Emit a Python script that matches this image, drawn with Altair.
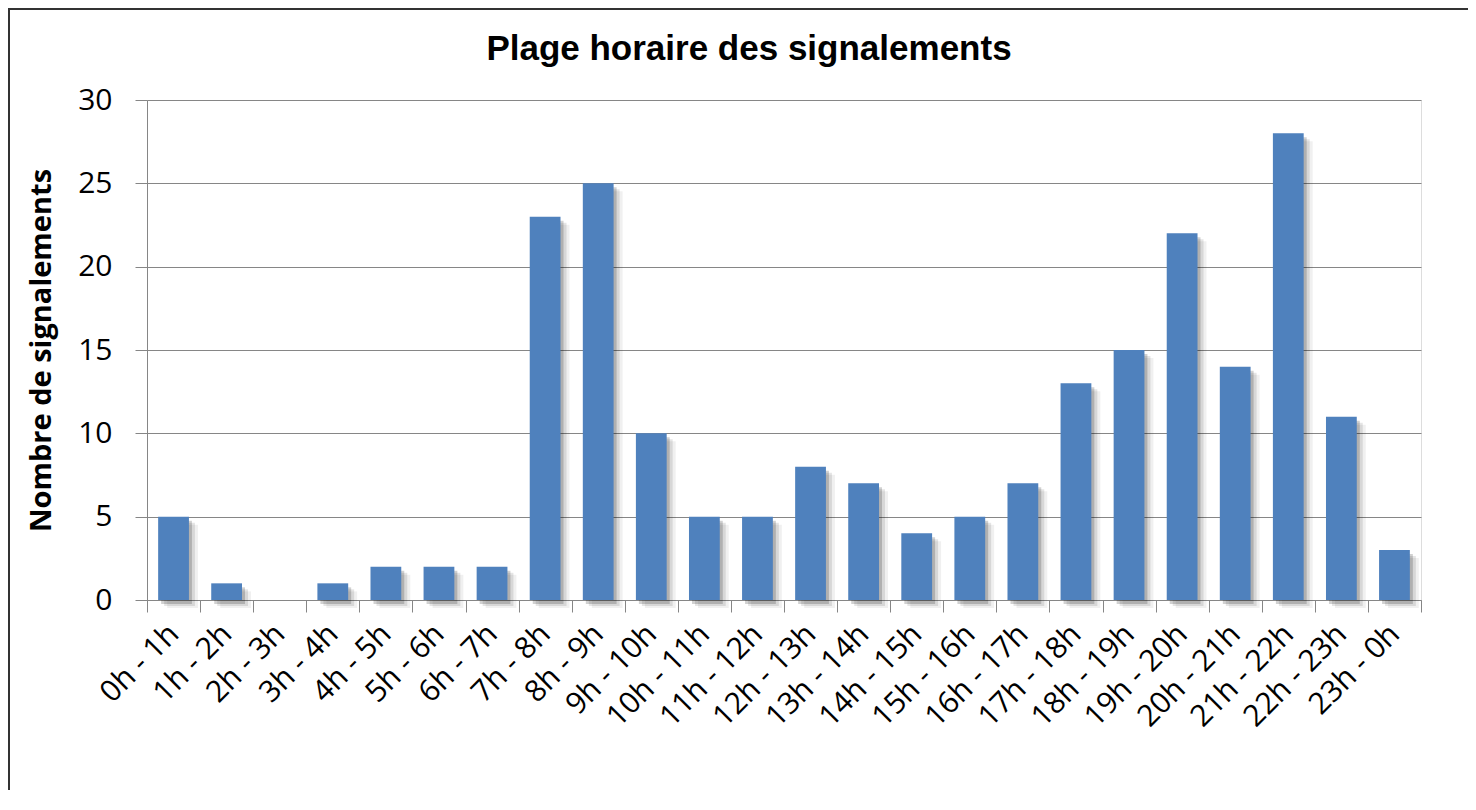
import altair as alt
import pandas as pd

categories = ["0h - 1h", "1h - 2h", "2h - 3h", "3h - 4h", "4h - 5h", "5h - 6h",
              "6h - 7h", "7h - 8h", "8h - 9h", "9h - 10h", "10h - 11h", "11h - 12h",
              "12h - 13h", "13h - 14h", "14h - 15h", "15h - 16h", "16h - 17h",
              "17h - 18h", "18h - 19h", "19h - 20h", "20h - 21h", "21h - 22h",
              "22h - 23h", "23h - 0h"]
values = [5, 1, 0, 1, 2, 2, 2, 23, 25, 10, 5, 5, 8, 7, 4, 5, 7, 13, 15, 22, 14, 28, 11, 3]
title_text = ["Plage horaire des signalements"]

df = pd.DataFrame({"plage": categories, "n": values})

W, H = 1274, 500
PL, PT = 139, 92

x_enc = alt.X("plage:N", sort=categories,
              scale=alt.Scale(paddingInner=0, paddingOuter=0),
              axis=alt.Axis(title=None, labelAngle=-45, labelAlign="right",
                            labelBaseline="middle", labelFont="Open Sans",
                            labelFontSize=30, labelColor="#000",
                            labelPadding=17, tickBand="extent", tickSize=12,
                            tickColor="#868686", domainColor="#868686",
                            grid=False))
y_enc = alt.Y("n:Q", scale=alt.Scale(domain=[0, 30]),
              axis=alt.Axis(values=[0, 5, 10, 15, 20, 25, 30],
                            title="Nombre de signalements",
                            titleFont="Open Sans", titleFontSize=29,
                            titleFontWeight="bold", titleColor="#000",
                            titleAngle=-90, titleX=-106, titleY=H / 2,
                            titleAlign="center", titleBaseline="middle",
                            labelFont="Open Sans", labelFontSize=30,
                            labelColor="#000", labelPadding=23,
                            tickSize=12, tickColor="#868686",
                            domainColor="#868686", gridColor="#868686",
                            grid=True))

base = alt.Chart(df)

shadow3 = base.mark_bar(color="#000000", opacity=0.06,
                        width=alt.RelativeBandSize(0.58),
                        xOffset=9, x2Offset=9, yOffset=8, y2Offset=0).encode(x=x_enc, y=y_enc)
shadow2 = base.mark_bar(color="#000000", opacity=0.10,
                        width=alt.RelativeBandSize(0.58),
                        xOffset=6, x2Offset=6, yOffset=6, y2Offset=0).encode(x=x_enc, y=y_enc)
shadow1 = base.mark_bar(color="#000000", opacity=0.18,
                        width=alt.RelativeBandSize(0.58),
                        xOffset=3, x2Offset=3, yOffset=4, y2Offset=0).encode(x=x_enc, y=y_enc)
bars = base.mark_bar(color="#4F81BD", width=alt.RelativeBandSize(0.58)).encode(x=x_enc, y=y_enc)

title = alt.Chart(pd.DataFrame({"t": title_text})).mark_text(
    font="Liberation Sans", fontSize=35, fontWeight="bold", color="#000",
    align="center", baseline="alphabetic", clip=False
).encode(text="t:N", x=alt.value(602), y=alt.value(-40))

border = alt.Chart(pd.DataFrame({"a": [0]})).mark_rect(
    fill=None, stroke="#333333", strokeWidth=2, clip=False
).encode(x=alt.value(-138), x2=alt.value(1400), y=alt.value(-91), y2=alt.value(780))

chart = alt.layer(shadow3, shadow2, shadow1, bars, title, border).properties(
    width=W, height=H,
    autosize=alt.AutoSizeParams(type="none"),
    padding={"left": PL, "top": PT, "right": 1460 - PL - W, "bottom": 190},
).configure_view(stroke=None).configure(background="white")

chart.save("out.html", embed_options={"renderer": "svg", "actions": False})
